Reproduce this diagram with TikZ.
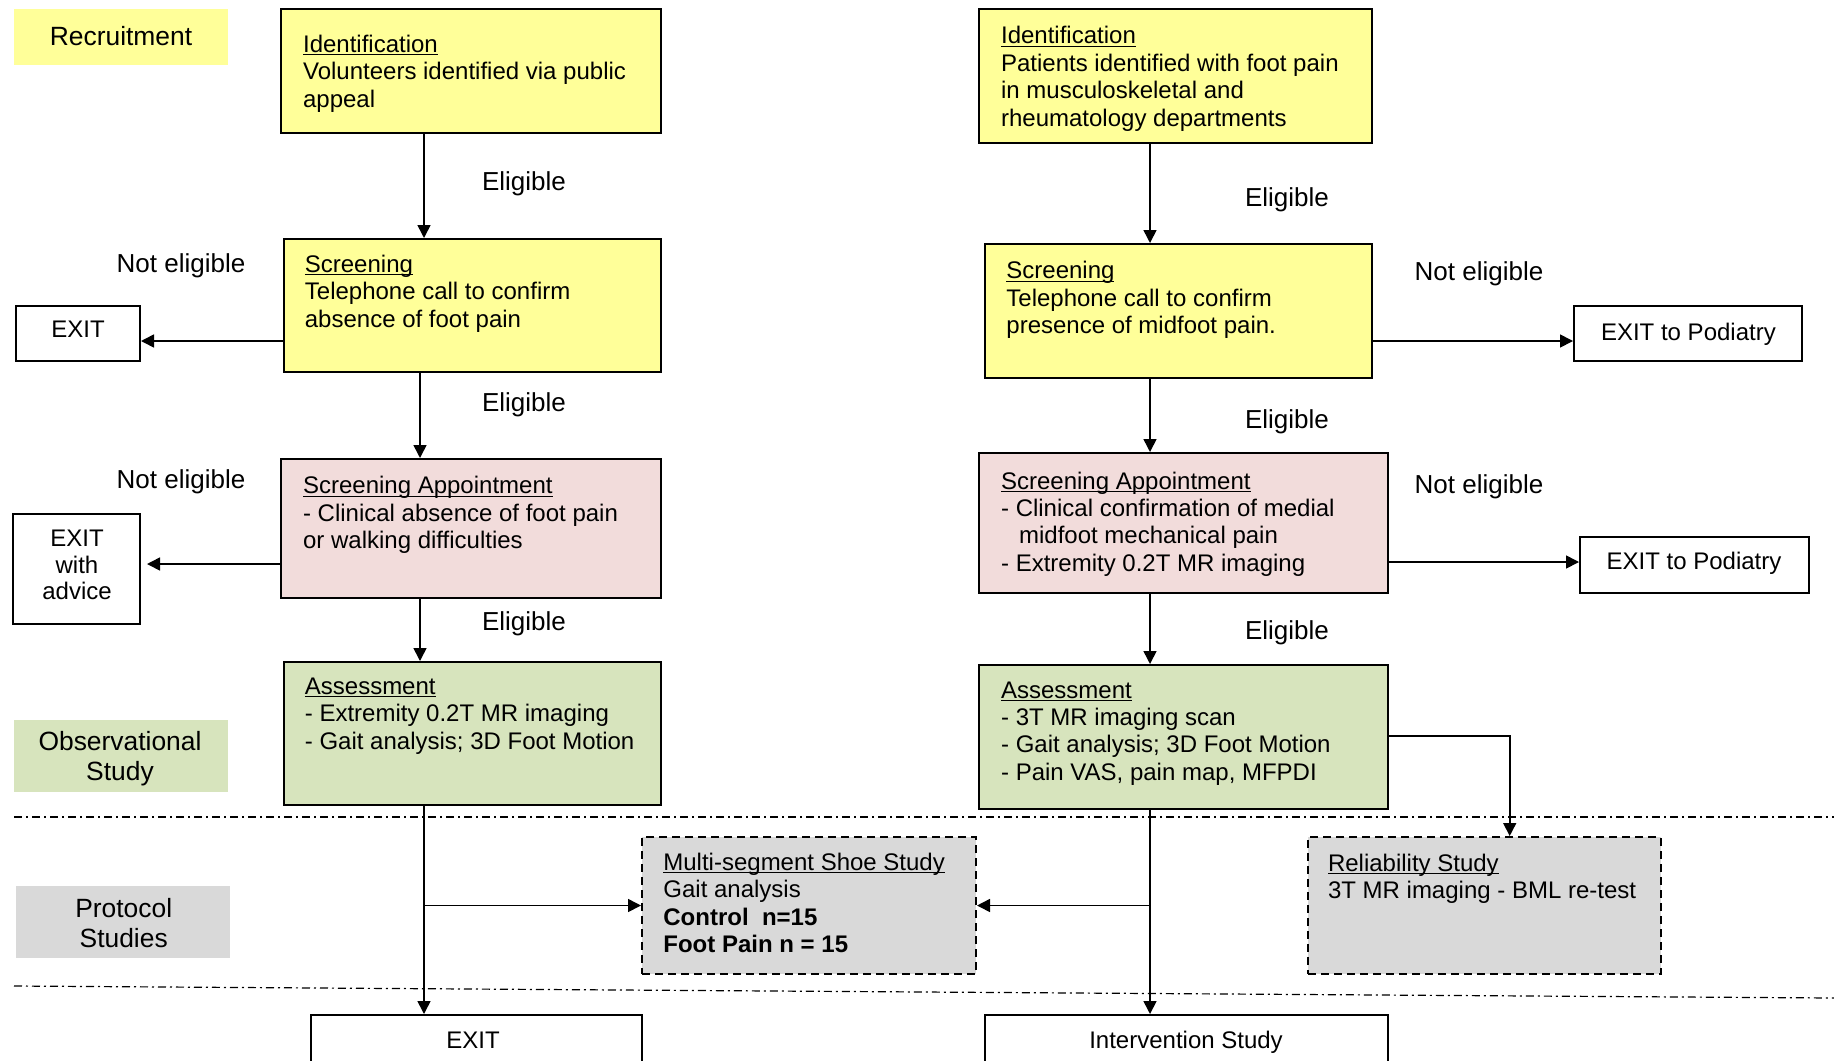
\documentclass[tikz,border=0pt]{standalone}
\usepackage{fontspec}
\setmainfont{Liberation Sans}
\usetikzlibrary{fit,arrows.meta}
\definecolor{cyel}{HTML}{FFFF99}
\definecolor{cpink}{HTML}{F2DCDB}
\definecolor{cgreen}{HTML}{D7E4BD}
\definecolor{cgray}{HTML}{D9D9D9}
\newcommand\myuline[1]{\setbox0=\hbox{#1}\rlap{\vrule height -0.9pt depth 1.5pt width \wd0}\box0}
\begin{document}
\begin{tikzpicture}[x=0.5pt,y=-0.5pt,
  box/.style={draw=black, line width=1pt, inner sep=0pt, rectangle},
  dbox/.style={draw=black, line width=1pt, dash pattern=on 4pt off 2.5pt, inner sep=0pt, rectangle, fill=cgray},
  tagbox/.style={inner sep=0pt, rectangle},
  txt/.style={inner sep=0pt, align=left, anchor=north west, font=\fontsize{12}{13.7}\selectfont},
  lbl/.style={inner sep=0pt, anchor=base, font=\fontsize{12}{13.7}\selectfont},
  flow/.style={inner sep=0pt, anchor=base, font=\fontsize{13}{15}\selectfont},
  tagtxt/.style={inner sep=0pt, align=center, anchor=north, font=\fontsize{13.2}{15}\selectfont},
  arr/.style={line width=0.8pt, -{Triangle[length=6.5pt,width=6.5pt]}},
  sepline/.style={line width=0.6pt, dash pattern=on 4pt off 2pt on 1pt off 2pt}]
\useasboundingbox (0,0) rectangle (1834,1060);
\clip (0,0) rectangle (1834,1060);

% side tags
\node[tagbox, fill=cyel, fit={(14,9) (228,65)}] (tRec) {};
\node[flow, font=\fontsize{13.2}{15}\selectfont] (tRecT) at (121,45.7) {Recruitment};
\node[tagbox, fill=cgreen, fit={(14,720) (228,792)}] (tObs) {};
\node[tagtxt] (tObsT) at (120,731) {Observational\\Study};
\node[tagbox, fill=cgray, fit={(16,886) (230,958)}] (tPro) {};
\node[tagtxt] (tProT) at (123.7,898) {Protocol\\Studies};

% left column
\node[box, fill=cyel, fit={(281,9) (661,133)}] (idL) {};
\node[txt] (idLt) at (302.7,34.5) {\myuline{Identification}\\Volunteers identified via public\\appeal};
\node[box, fill=cyel, fit={(283.5,239) (661,372)}] (scL) {};
\node[txt] (scLt) at (304.5,254.5) {\myuline{Screening}\\Telephone call to confirm\\absence of foot pain};
\node[box, fill=cpink, fit={(281,459) (661,598)}] (saL) {};
\node[txt] (saLt) at (302.7,476) {\myuline{Screening Appointment}\\- Clinical absence of foot pain\\or walking difficulties};
\node[box, fill=cgreen, fit={(283.5,662) (661,805)}] (asL) {};
\node[txt] (asLt) at (304.5,677.5) {\myuline{Assessment}\\- Extremity 0.2T MR imaging\\- Gait analysis; 3D Foot Motion};

\node[box, fill=white, fit={(15.6,306) (140,361)}] (exL) {};
\node[lbl] (exLt) at (78,337.7) {EXIT};
\node[box, fill=white, fit={(13.4,514) (140,624)}] (exAdv) {};
\node[inner sep=0pt, align=center, anchor=north, font=\fontsize{12}{13.35}\selectfont] (exAdvT) at (77,529.5) {EXIT\\with\\advice};

\node[flow] (eL1) at (524,190) {Eligible};
\node[flow] (eL2) at (524,411) {Eligible};
\node[flow] (eL3) at (524,630.7) {Eligible};
\node[flow] (nL1) at (181,272.7) {Not eligible};
\node[flow] (nL2) at (181,488.3) {Not eligible};

% right column
\node[box, fill=cyel, fit={(979,9) (1371.6,143)}] (idR) {};
\node[txt] (idRt) at (1000.7,26.2) {\myuline{Identification}\\Patients identified with foot pain\\in musculoskeletal and\\rheumatology departments};
\node[box, fill=cyel, fit={(985,244) (1371.6,378)}] (scR) {};
\node[txt] (scRt) at (1006,261.2) {\myuline{Screening}\\Telephone call to confirm\\presence of midfoot pain.};
\node[box, fill=cpink, fit={(979,453) (1388,593)}] (saR) {};
\node[txt] (saRt) at (1000.7,471.2) {\myuline{Screening Appointment}\\- Clinical confirmation of medial\\\hspace*{9pt}midfoot mechanical pain\\- Extremity 0.2T MR imaging};
\node[box, fill=cgreen, fit={(979,665) (1388,809)}] (asR) {};
\node[txt] (asRt) at (1000.7,681.2) {\myuline{Assessment}\\- 3T MR imaging scan\\- Gait analysis; 3D Foot Motion\\- Pain VAS, pain map, MFPDI};

\node[box, fill=white, fit={(1574,306) (1802,361)}] (exP1) {};
\node[lbl] (exP1t) at (1688.4,340) {EXIT to Podiatry};
\node[box, fill=white, fit={(1580,537) (1808.5,593)}] (exP2) {};
\node[lbl] (exP2t) at (1694,569.3) {EXIT to Podiatry};

\node[flow] (eR1) at (1287,206.7) {Eligible};
\node[flow] (eR2) at (1287,428.3) {Eligible};
\node[flow] (eR3) at (1287,639.3) {Eligible};
\node[flow] (nR1) at (1479,280) {Not eligible};
\node[flow] (nR2) at (1479,493.3) {Not eligible};

% protocol studies
\node[dbox, fit={(642,837) (976,974)}] (ms) {};
\node[txt] (msT) at (663,852.5) {\myuline{Multi-segment Shoe Study}\\Gait analysis\\\textbf{Control\ \ n=15}\\\textbf{Foot Pain n = 15}};
\node[dbox, fit={(1308,837) (1660.6,974)}] (rel) {};
\node[txt] (relT) at (1327.6,853.5) {\myuline{Reliability Study}\\3T MR imaging - BML re-test};

% bottom boxes
\node[box, fill=white, fit={(310.6,1015) (642,1080)}] (exB) {};
\node[lbl] (exBt) at (473,1048.3) {EXIT};
\node[box, fill=white, fit={(985,1015) (1388,1080)}] (intv) {};
\node[lbl] (intvT) at (1186,1048.3) {Intervention Study};

% separators
\draw[sepline] (14,817) -- (1834,817);
\draw[sepline] (14,986) -- (1834,998);

% helper coordinates
\coordinate (xL1) at (424,0);
\coordinate (xL2) at (420,0);
\coordinate (xR) at (1150,0);
\coordinate (yE1) at (0,341);
\coordinate (yE2) at (0,562);
\coordinate (tipAdv) at (147,564);
\coordinate (yRel) at (0,736);
\coordinate (xRel) at (1509.7,0);

% connectors left
\draw[arr] (idL.south -| xL1) -- (scL.north -| xL1);
\draw[arr] (scL.west |- yE1) -- (exL.east |- yE1);
\draw[arr] (scL.south -| xL2) -- (saL.north -| xL2);
\draw[arr] (saL.west |- tipAdv) -- (tipAdv);
\draw[arr] (saL.south -| xL2) -- (asL.north -| xL2);
\draw[arr] (asL.south -| xL1) -- (exB.north -| xL1);
\draw[arr] (ms.west -| xL1) -- (ms.west);

% connectors right
\draw[arr] (idR.south -| xR) -- (scR.north -| xR);
\draw[arr] (scR.east |- yE1) -- (exP1.west |- yE1);
\draw[arr] (scR.south -| xR) -- (saR.north -| xR);
\draw[arr] (saR.east |- yE2) -- (exP2.west |- yE2);
\draw[arr] (saR.south -| xR) -- (asR.north -| xR);
\draw[arr] (asR.south -| xR) -- (intv.north -| xR);
\draw[arr] (ms.east -| xR) -- (ms.east);
\draw[arr] (asR.east |- yRel) -| (rel.north -| xRel);
\end{tikzpicture}
\end{document}
